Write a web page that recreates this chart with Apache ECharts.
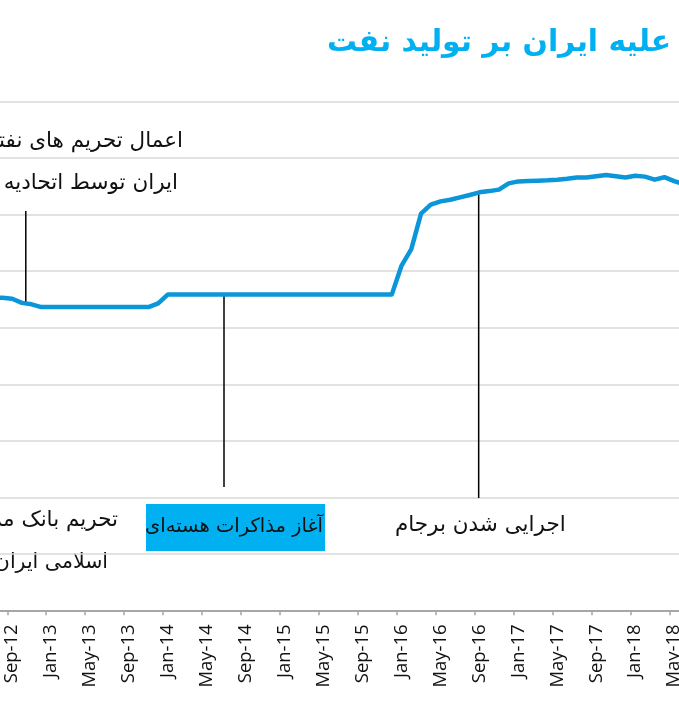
<!DOCTYPE html>
<html>
<head>
<meta charset="utf-8">
<script src="https://cdn.jsdelivr.net/npm/echarts@6/dist/echarts.min.js"></script>
<style>
html,body{margin:0;padding:0;background:#fff;}
#chart{width:679px;height:719px;}
</style>
</head>
<body>
<div id="chart"></div>
<script>
// Months (category axis), Jul-12 .. Jun-18
const months = [
 'Jul-12','Aug-12','Sep-12','Oct-12','Nov-12','Dec-12',
 'Jan-13','Feb-13','Mar-13','Apr-13','May-13','Jun-13','Jul-13','Aug-13','Sep-13','Oct-13','Nov-13','Dec-13',
 'Jan-14','Feb-14','Mar-14','Apr-14','May-14','Jun-14','Jul-14','Aug-14','Sep-14','Oct-14','Nov-14','Dec-14',
 'Jan-15','Feb-15','Mar-15','Apr-15','May-15','Jun-15','Jul-15','Aug-15','Sep-15','Oct-15','Nov-15','Dec-15',
 'Jan-16','Feb-16','Mar-16','Apr-16','May-16','Jun-16','Jul-16','Aug-16','Sep-16','Oct-16','Nov-16','Dec-16',
 'Jan-17','Feb-17','Mar-17','Apr-17','May-17','Jun-17','Jul-17','Aug-17','Sep-17','Oct-17','Nov-17','Dec-17',
 'Jan-18','Feb-18','Mar-18','Apr-18','May-18','Jun-18'
];
// Iran crude oil production (thousand barrels/day)
const production = [
 2770,2765,2757,2720,2707,2683,
 2683,2683,2683,2683,2683,2683,2683,2683,2683,2683,2683,2716,
 2795,2795,2795,2795,2795,2795,2795,2795,2795,2795,2795,2795,
 2795,2795,2795,2795,2795,2795,2795,2795,2795,2795,2795,2795,
 3050,3196,3510,3589,3618,3633,3654,3675,3698,3709,3722,3777,
 3795,3799,3801,3804,3810,3819,3830,3830,3841,3852,3841,3830,
 3845,3837,3810,3832,3797,3770
];
// Y ticks
const yMin = 0, yMax = 4500, yStep = 500;
// Annotation leader lines: [month position, from value, to value]
const leaderEU   = [3.4, 3533, 2719];
const leaderTalks = [23.76, 2797, 1090];
const leaderJCPOA = [49.92, 3704, 994];

const title = 'تاثیر تحریم‌ها علیه ایران بر تولید نفت';
const noteEU1 = 'اعمال تحریم های نفتی علیه';
const noteEU2 = 'ایران توسط اتحادیه اروپا';
const noteCB1 = 'تحریم بانک مرکزی جمهوری';
const noteCB2 = 'اسلامی ایران';
const noteTalks = 'آغاز مذاکرات هسته‌ای';
const noteJCPOA = 'اجرایی شدن برجام';

const chart = echarts.init(document.getElementById('chart'), null, {renderer:'canvas'});
const labelEvery = (idx) => (idx - 2) % 4 === 0;
const arFont = '"DejaVu Sans", sans-serif';

function leader(l){
  return {
    type:'line', xAxisIndex:1, yAxisIndex:0, silent:true, symbol:'none',
    lineStyle:{color:'#000', width:1.5}, z:1,
    data:[[l[0], l[1]], [l[0], l[2]]]
  };
}

chart.setOption({
  animation:false,
  backgroundColor:'#fff',
  grid:{left:-12.17, right:-9.75, top:101.7, bottom:108.7, containLabel:false, outerBoundsMode:'none'},
  xAxis:[{
    type:'category', data:months, boundaryGap:true,
    axisLine:{show:true, lineStyle:{color:'#a6a6a6', width:2}},
    axisTick:{show:true, interval:labelEvery, length:5, lineStyle:{color:'#a6a6a6', width:1.5}},
    axisLabel:{interval:labelEvery, rotate:90, margin:14, color:'#111', fontSize:18.5,
      fontFamily:'"Open Sans", "DejaVu Sans", sans-serif'},
    splitLine:{show:false}
  },{
    type:'value', min:-0.5, max:71.5, show:false
  }],
  yAxis:{
    type:'value', min:yMin, max:yMax, interval:yStep,
    axisLine:{show:false}, axisTick:{show:false}, axisLabel:{show:false},
    splitLine:{lineStyle:{color:'#d9d9d9', width:1.5}}
  },
  series:[
    {type:'line', data:production, symbol:'none', xAxisIndex:0,
     lineStyle:{color:'#0a96d8', width:4.5, join:'round'}, z:3},
    leader(leaderEU), leader(leaderTalks), leader(leaderJCPOA)
  ],
  graphic:[
    {type:'text', style:{x:327, y:43, text:title, fill:'#00b0f0',
      font:'bold 29.8px '+arFont, textAlign:'left', textVerticalAlign:'middle'}},
    {type:'text', style:{x:183, y:141.7, text:noteEU1, fill:'#111', font:'21.5px '+arFont, textAlign:'right', textVerticalAlign:'middle'}},
    {type:'text', style:{x:178, y:183, text:noteEU2, fill:'#111', font:'21.5px '+arFont, textAlign:'right', textVerticalAlign:'middle'}},
    {type:'text', style:{x:118, y:520, text:noteCB1, fill:'#111', font:'21.5px '+arFont, textAlign:'right', textVerticalAlign:'middle'}},
    {type:'text', style:{x:108, y:563, text:noteCB2, fill:'#111', font:'20.5px '+arFont, textAlign:'right', textVerticalAlign:'middle'}},
    {type:'rect', shape:{x:146, y:504, width:179, height:47}, style:{fill:'#00b0f0'}},
    {type:'text', style:{x:323, y:527, text:noteTalks, fill:'#111', font:'19.5px '+arFont, textAlign:'right', textVerticalAlign:'middle'}},
    {type:'text', style:{x:565.7, y:525, text:noteJCPOA, fill:'#111', font:'21.5px '+arFont, textAlign:'right', textVerticalAlign:'middle'}}
  ]
});
</script>
</body>
</html>
